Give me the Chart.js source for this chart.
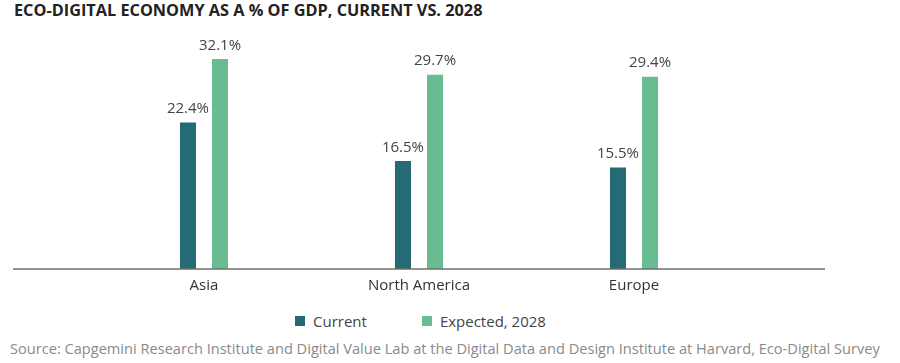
<!DOCTYPE html>
<html>
<head>
<meta charset="utf-8">
<script src="https://cdn.jsdelivr.net/npm/chart.js@4"></script>
<style>
  body { margin: 0; background: #fff; }
  #wrap { position: relative; width: 900px; height: 363px; overflow: hidden; font-family: "Open Sans", sans-serif; }
  #titulo { position: absolute; left: 14px; top: -1px; font-weight: 700; font-size: 16.3px; color: #222; white-space: nowrap; }
  #grafico-box { position: absolute; left: 0; top: 0; width: 900px; height: 303px; }
  #legenda { position: absolute; left: 295px; top: 311px; display: flex; font-size: 15px; color: #444; }
  #legenda .item { display: flex; align-items: center; margin-right: 55px; }
  #legenda .caixa { width: 10px; height: 10px; margin-right: 8px; }
  #fonte { position: absolute; left: 10px; top: 338px; font-size: 14.6px; color: #8a8a8a; white-space: nowrap; }
</style>
</head>
<body>
<div id="wrap">
  <div id="titulo">ECO-DIGITAL ECONOMY AS A % OF GDP, CURRENT VS. 2028</div>
  <div id="grafico-box"><canvas id="grafico-barra"></canvas></div>
  <div id="legenda"></div>
  <div id="fonte">Source: Capgemini Research Institute and Digital Value Lab at the Digital Data and Design Institute at Harvard, Eco-Digital Survey</div>
</div>
<script>
const regioes = ['Asia', 'North America', 'Europe'];
const atual = [22.4, 16.5, 15.5];
const esperado = [32.1, 29.7, 29.4];
const nomesSeries = ['Current', 'Expected, 2028'];
const cores = ['#256b75', '#67bc92'];

// rotulos de valor acima das barras
const rotulosPlugin = {
    id: 'rotulos',
    afterDatasetsDraw(chart) {
        const ctx = chart.ctx;
        ctx.save();
        ctx.font = '15px "Open Sans", sans-serif';
        ctx.fillStyle = '#444';
        ctx.textAlign = 'center';
        ctx.textBaseline = 'bottom';
        chart.data.datasets.forEach((ds, i) => {
            chart.getDatasetMeta(i).data.forEach((bar, j) => {
                ctx.fillText(ds.data[j].toFixed(1) + '%', bar.x, bar.y - 6);
            });
        });
        ctx.restore();
    }
};

// linha de base mais larga que a area do grafico
const basePlugin = {
    id: 'base',
    afterDraw(chart) {
        const ctx = chart.ctx;
        const y = chart.scales.y.getPixelForValue(0);
        ctx.save();
        ctx.strokeStyle = '#6e6e6e';
        ctx.lineWidth = 1.5;
        ctx.beginPath();
        ctx.moveTo(13, y);
        ctx.lineTo(825, y);
        ctx.stroke();
        ctx.restore();
    }
};

const ctxBar = document.getElementById('grafico-barra').getContext('2d');
const graficoBarra = new Chart(ctxBar, {
    type: 'bar',
    data: {
        labels: regioes,
        datasets: [atual, esperado].map((valores, i) => ({
            label: nomesSeries[i],
            data: valores,
            backgroundColor: cores[i],
            barPercentage: 0.5,
            categoryPercentage: 0.298
        }))
    },
    options: {
        responsive: true,
        maintainAspectRatio: false,
        animation: false,
        layout: { padding: { left: 96.5, right: 158.5, top: 40, bottom: 0 } },
        plugins: {
            legend: { display: false },
            tooltip: { enabled: false }
        },
        scales: {
            x: {
                grid: { display: false, drawTicks: false },
                border: { display: false },
                ticks: { color: '#333', font: { family: '"Open Sans", sans-serif', size: 15 }, padding: 8 }
            },
            y: {
                display: false,
                min: 0,
                max: 35
            }
        }
    },
    plugins: [rotulosPlugin, basePlugin]
});

const legenda = document.getElementById('legenda');
graficoBarra.data.datasets.forEach(ds => {
    const item = document.createElement('div');
    item.classList.add('item');
    const caixa = document.createElement('span');
    caixa.classList.add('caixa');
    caixa.style.background = ds.backgroundColor;
    const texto = document.createElement('span');
    texto.textContent = ds.label;
    item.appendChild(caixa);
    item.appendChild(texto);
    legenda.appendChild(item);
});
</script>
</body>
</html>
